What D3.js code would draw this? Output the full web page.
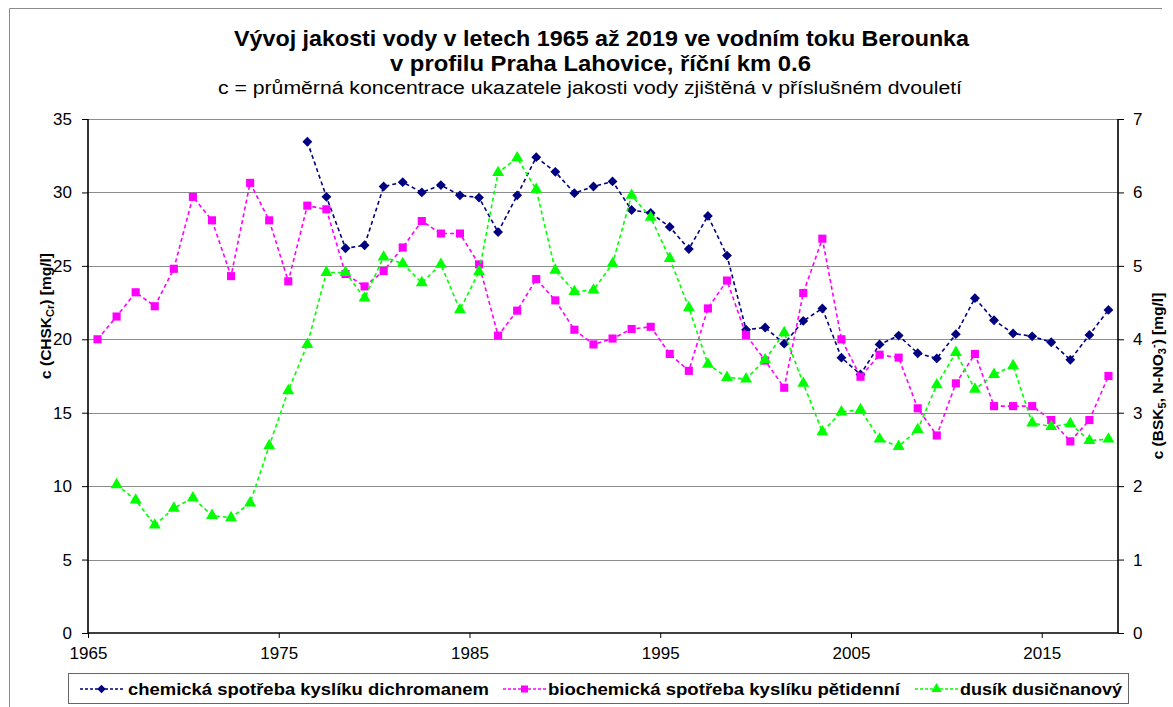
<!DOCTYPE html>
<html>
<head>
<meta charset="utf-8">
<script src="https://cdn.jsdelivr.net/npm/d3@7"></script>
<style>
  html, body { margin: 0; padding: 0; background: #fff; }
  svg { display: block; font-family: "Liberation Sans", Arial, sans-serif; }
</style>
</head>
<body>
<svg id="chart" width="1173" height="707"></svg>
<script>
// Two-year periods, plotted at the middle of each year slot
const years = [1965, 1966, 1967, 1968, 1969, 1970, 1971, 1972, 1973, 1974,
               1975, 1976, 1977, 1978, 1979, 1980, 1981, 1982, 1983, 1984,
               1985, 1986, 1987, 1988, 1989, 1990, 1991, 1992, 1993, 1994,
               1995, 1996, 1997, 1998, 1999, 2000, 2001, 2002, 2003, 2004,
               2005, 2006, 2007, 2008, 2009, 2010, 2011, 2012, 2013, 2014,
               2015, 2016, 2017, 2018];

// CHSK-Cr [mg/l], left axis
const chskCr = [null, null, null, null, null, null, null, null, null, null,
                null, 33.45, 29.7, 26.2, 26.4, 30.4, 30.7, 30.0, 30.5, 29.8,
                29.65, 27.3, 29.8, 32.4, 31.4, 29.95, 30.4, 30.75, 28.8, 28.6,
                27.65, 26.15, 28.4, 25.7, 20.65, 20.8, 19.7, 21.25, 22.1, 18.75,
                17.6, 19.65, 20.25, 19.05, 18.7, 20.35, 22.8, 21.3, 20.4, 20.2,
                19.8, 18.6, 20.3, 22.0];

// BSK5 [mg/l], right axis
const bsk5 = [4.0, 4.31, 4.64, 4.45, 4.96, 5.94, 5.62, 4.86, 6.13, 5.62,
              4.79, 5.82, 5.77, 4.89, 4.72, 4.93, 5.25, 5.61, 5.44, 5.44,
              5.02, 4.05, 4.39, 4.82, 4.53, 4.13, 3.93, 4.01, 4.14, 4.17,
              3.80, 3.57, 4.42, 4.80, 4.06, 3.71, 3.34, 4.63, 5.37, 4.00,
              3.49, 3.79, 3.75, 3.06, 2.69, 3.40, 3.80, 3.09, 3.09, 3.09,
              2.90, 2.61, 2.90, 3.50];

// N-NO3 [mg/l], right axis
const nNO3 = [null, 2.02, 1.81, 1.47, 1.70, 1.84, 1.60, 1.57, 1.77, 2.55,
              3.30, 3.93, 4.91, 4.91, 4.56, 5.12, 5.03, 4.77, 5.02, 4.40,
              4.92, 6.27, 6.47, 6.04, 4.94, 4.65, 4.67, 5.03, 5.96, 5.66,
              5.10, 4.43, 3.66, 3.48, 3.46, 3.72, 4.09, 3.40, 2.74, 3.01,
              3.04, 2.64, 2.54, 2.77, 3.38, 3.82, 3.32, 3.52, 3.64, 2.86,
              2.81, 2.85, 2.62, 2.64];

const xTicks = [1965, 1975, 1985, 1995, 2005, 2015];
const leftTicks = [0, 5, 10, 15, 20, 25, 30, 35];
const rightTicks = [0, 1, 2, 3, 4, 5, 6, 7];

const seriesNames = ["chemická spotřeba kyslíku dichromanem",
                     "biochemická spotřeba kyslíku pětidenní",
                     "dusík dusičnanový"];

const svg = d3.select("#chart");
const plot = { left: 88, right: 1118, top: 119, bottom: 633 };

const x = d3.scaleLinear().domain([1965, 2019]).range([plot.left, plot.right]);
const yL = d3.scaleLinear().domain([0, 35]).range([plot.bottom, plot.top]);
const yR = d3.scaleLinear().domain([0, 7]).range([plot.bottom, plot.top]);

// outer frame (top and left edges)
svg.append("path")
  .attr("d", "M9.5,707 V8.5 H1162")
  .attr("fill", "none").attr("stroke", "#8a8a8a").attr("stroke-width", 1);

// titles
const title = svg.append("g");
title.append("text").attr("x", 234).attr("y", 46)
  .attr("font-size", 22).attr("font-weight", "bold")
  .attr("textLength", 735).attr("lengthAdjust", "spacingAndGlyphs")
  .text("Vývoj jakosti vody v letech 1965 až 2019 ve vodním toku Berounka");
title.append("text").attr("x", 390).attr("y", 71)
  .attr("font-size", 22).attr("font-weight", "bold")
  .attr("textLength", 421).attr("lengthAdjust", "spacingAndGlyphs")
  .text("v profilu Praha Lahovice, říční km 0.6");
title.append("text").attr("x", 218).attr("y", 94)
  .attr("font-size", 18)
  .attr("textLength", 744).attr("lengthAdjust", "spacingAndGlyphs")
  .text("c = průměrná koncentrace ukazatele jakosti vody zjištěná v příslušném dvouletí");

// horizontal gridlines
svg.append("g")
  .selectAll("line").data(leftTicks.filter(d => d > 0)).join("line")
  .attr("x1", plot.left).attr("x2", plot.right)
  .attr("y1", d => Math.round(yL(d)) + 0.5).attr("y2", d => Math.round(yL(d)) + 0.5)
  .attr("stroke", "#8c8c8c").attr("stroke-width", 1.2);

// axes
const axisLeft = d3.axisLeft(yL).tickValues(leftTicks).tickFormat(d3.format("d")).tickSize(6).tickPadding(10);
const axisRight = d3.axisRight(yR).tickValues(rightTicks).tickFormat(d3.format("d")).tickSize(6).tickPadding(9);
const axisBottom = d3.axisBottom(x).tickValues(xTicks).tickFormat(d3.format("d")).tickSize(5).tickPadding(9);

function styleAxis(g) {
  g.selectAll("text").attr("font-size", 17).attr("fill", "#000")
    .attr("font-family", "\"Liberation Sans\", Arial, sans-serif");
  g.selectAll(".tick line").attr("stroke", "#000");
}

svg.append("g").attr("transform", `translate(0,${plot.bottom})`).call(axisBottom).call(styleAxis)
  .call(g => g.select(".domain").remove());
svg.append("g").attr("transform", `translate(${plot.left},0)`).call(axisLeft).call(styleAxis)
  .call(g => g.select(".domain").remove());
svg.append("g").attr("transform", `translate(${plot.right},0)`).call(axisRight).call(styleAxis)
  .call(g => g.select(".domain").remove());

// axis lines
svg.append("path")
  .attr("d", `M${plot.left},${plot.top} V${plot.bottom} H${plot.right} V${plot.top}`)
  .attr("fill", "none").attr("stroke", "#000").attr("stroke-width", 1.6);

// axis titles
const lt = svg.append("text")
  .attr("transform", "translate(51,316) rotate(-90)")
  .attr("text-anchor", "middle").attr("font-size", 15.5).attr("font-weight", "bold");
lt.append("tspan").text("c (CHSK");
lt.append("tspan").attr("font-size", 11).attr("dy", 3).text("Cr");
lt.append("tspan").attr("dy", -3).text(") [mg/l]");

const rt = svg.append("text")
  .attr("transform", "translate(1163,376) rotate(-90)")
  .attr("text-anchor", "middle").attr("font-size", 15.5).attr("font-weight", "bold");
rt.append("tspan").text("c (BSK");
rt.append("tspan").attr("font-size", 11).attr("dy", 3).text("5");
rt.append("tspan").attr("dy", -3).text(", N-NO");
rt.append("tspan").attr("font-size", 11).attr("dy", 3).text("3");
rt.append("tspan").attr("font-size", 11).attr("dy", -9).text("-");
rt.append("tspan").attr("dy", 6).text(") [mg/l]");

// series
const series = [
  { name: seriesNames[0], values: chskCr, y: yL, color: "#000080",
    symbol: d3.symbolDiamond2, size: 62, textLen: 361 },
  { name: seriesNames[1], values: bsk5, y: yR, color: "#ff00ff",
    symbol: d3.symbolSquare2, size: 84, textLen: 352 },
  { name: seriesNames[2], values: nNO3, y: yR, color: "#00ff00",
    symbol: d3.symbolTriangle, size: 62, textLen: 162 }
];

const xPos = yr => x(yr + 0.5);

series.forEach(s => {
  const pts = years.map((yr, i) => ({ yr, v: s.values[i] }));
  const line = d3.line().defined(d => d.v != null)
    .x(d => xPos(d.yr)).y(d => s.y(d.v));
  svg.append("path").datum(pts)
    .attr("d", line)
    .attr("fill", "none").attr("stroke", s.color)
    .attr("stroke-width", 1.6).attr("stroke-dasharray", "4,3");
  const sym = d3.symbol().type(s.symbol).size(s.size);
  svg.append("g").selectAll("path").data(pts.filter(d => d.v != null)).join("path")
    .attr("transform", d => `translate(${xPos(d.yr)},${s.y(d.v)})`)
    .attr("d", sym)
    .attr("fill", s.color).attr("stroke", "none");
});

// legend
const legend = svg.append("g");
legend.append("rect").attr("x", 68.5).attr("y", 673.5).attr("width", 1060).attr("height", 30)
  .attr("fill", "#fff").attr("stroke", "#666").attr("stroke-width", 1);
const legendX = [[80, 128], [503, 548], [915, 960]];
series.forEach((s, i) => {
  const [sx, tx] = legendX[i];
  const cy = 689;
  legend.append("line").attr("x1", sx).attr("x2", sx + 43).attr("y1", cy).attr("y2", cy)
    .attr("stroke", s.color).attr("stroke-width", 1.6).attr("stroke-dasharray", "3,2");
  legend.append("path").attr("transform", `translate(${sx + 21.5},${cy})`)
    .attr("d", d3.symbol().type(s.symbol).size(s.size * 0.75))
    .attr("fill", s.color);
  legend.append("text").attr("x", tx).attr("y", cy + 6)
    .attr("font-size", 16.5).attr("font-weight", "bold")
    .attr("textLength", s.textLen).attr("lengthAdjust", "spacingAndGlyphs")
    .text(s.name);
});
</script>
</body>
</html>
